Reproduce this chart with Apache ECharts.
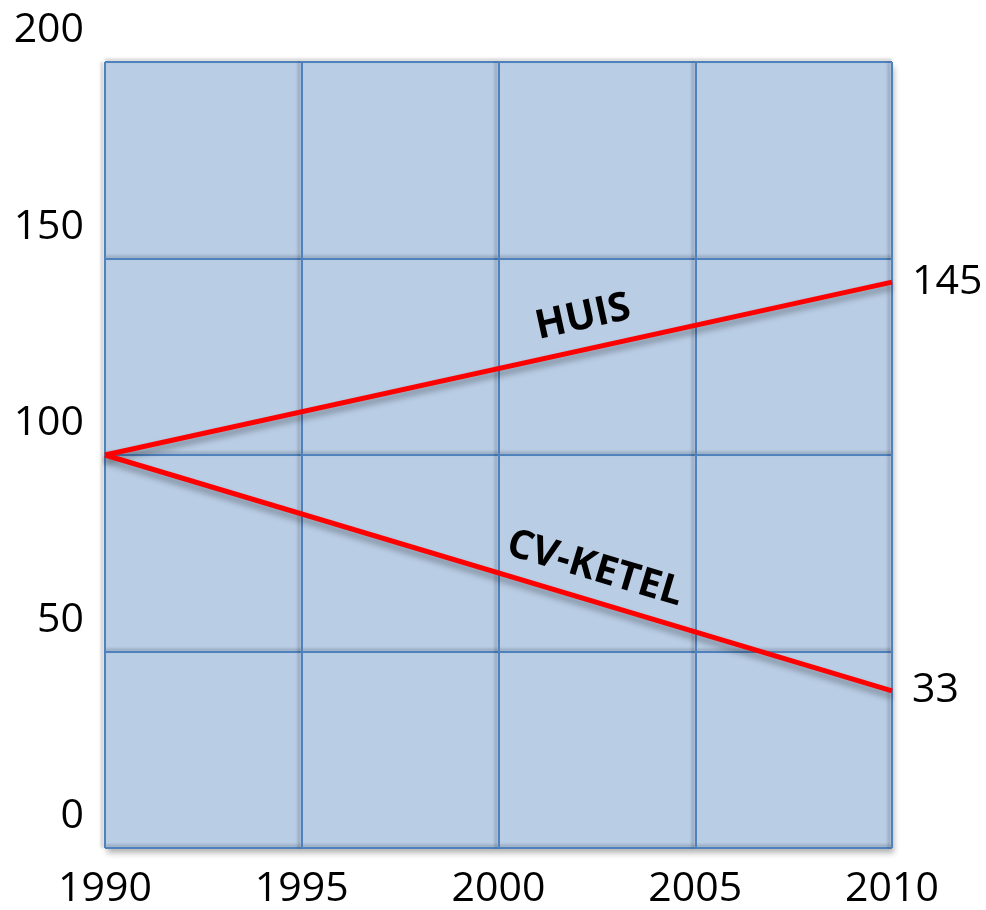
<!DOCTYPE html>
<html>
<head>
<meta charset="utf-8">
<script src="https://cdn.jsdelivr.net/npm/echarts@6/dist/echarts.min.js"></script>
<style>
  html, body { margin: 0; padding: 0; background: #fff; }
  #chart { width: 986px; height: 910px; }
</style>
</head>
<body>
<div id="chart"></div>
<script>
  // data
  const years = [1990, 2010]
  const huis = [100, 144]
  const cvKetel = [100, 40]
  const endLabels = ['145', '33']
  const seriesNames = ['HUIS', 'CV-KETEL']
  // where the names sit along the lines, in data coords, and their slant
  const namePos = [[2002.15, 135], [2002.45, 71]]
  const nameRotate = [12.4, -16.6]

  const font = 'Open Sans'
  const chart = echarts.init(document.getElementById('chart'))

  const makeSeries = (values, i) => ({
    name: seriesNames[i],
    type: 'line',
    data: years.map((y, k) => [y, values[k]]),
    showSymbol: false,
    silent: true,
    lineStyle: {
      color: '#ff0000',
      width: 5,
      shadowColor: 'rgba(0,0,0,0.35)',
      shadowBlur: 6,
      shadowOffsetY: 5,
    },
    endLabel: {
      show: true,
      formatter: () => endLabels[i],
      color: '#000',
      fontFamily: font,
      fontSize: 41,
      distance: 20,
    },
    markPoint: {
      symbol: 'circle',
      symbolSize: 0,
      silent: true,
      data: [{ coord: namePos[i] }],
      label: {
        show: true,
        position: 'inside',
        formatter: seriesNames[i],
        rotate: nameRotate[i],
        color: '#000',
        fontFamily: font,
        fontWeight: 'bold',
        fontSize: 40,
      },
    },
  })

  const option = {
    animation: false,
    grid: {
      left: 105,
      top: 62,
      right: 94,
      bottom: 62,
      show: true,
      backgroundColor: '#b9cde5',
      borderWidth: 0,
      shadowColor: 'rgba(0,0,0,0.3)',
      shadowBlur: 6,
      shadowOffsetX: 2,
      shadowOffsetY: 5,
    },
    xAxis: {
      type: 'value',
      min: 1990,
      max: 2010,
      interval: 5,
      axisLine: { show: false },
      axisTick: { show: false },
      axisLabel: {
        color: '#000',
        fontFamily: font,
        fontSize: 41,
        margin: 21,
        formatter: (v) => String(v),
      },
      splitLine: {
        show: true,
        lineStyle: {
          color: '#4f81bd',
          width: 2,
          shadowColor: 'rgba(0,0,0,0.25)',
          shadowBlur: 3,
          shadowOffsetX: -3,
        },
      },
    },
    yAxis: {
      type: 'value',
      min: 0,
      max: 200,
      interval: 50,
      axisLine: { show: false },
      axisTick: { show: false },
      axisLabel: {
        color: '#000',
        fontFamily: font,
        fontSize: 41,
        margin: 21,
        verticalAlign: 'bottom',
        padding: [0, 0, 11, 0],
      },
      splitLine: {
        show: true,
        lineStyle: {
          color: '#4f81bd',
          width: 2,
          shadowColor: 'rgba(0,0,0,0.25)',
          shadowBlur: 3,
          shadowOffsetY: -2,
        },
      },
    },
    series: [makeSeries(huis, 0), makeSeries(cvKetel, 1)],
  }
  chart.setOption(option)
</script>
</body>
</html>
